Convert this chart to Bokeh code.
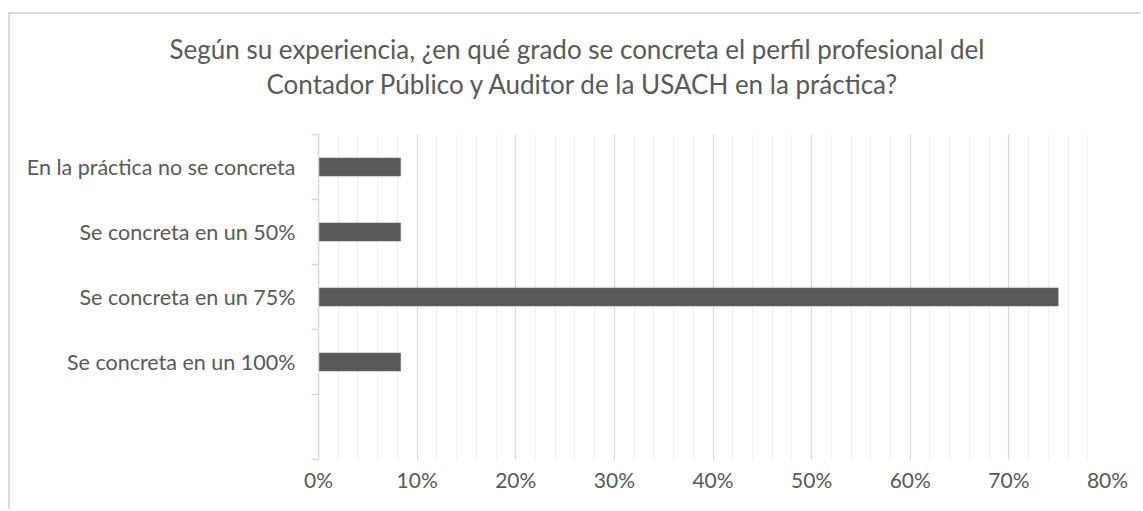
from bokeh.plotting import figure
from bokeh.models import (Range1d, FixedTicker, SingleIntervalTicker,
                          NumeralTickFormatter, Title, ColumnDataSource)
from bokeh.embed import file_html
from bokeh.resources import INLINE

# ---- data (top to bottom as shown) ----
categories = ["En la práctica no se concreta",
              "Se concreta en un 50%",
              "Se concreta en un 75%",
              "Se concreta en un 100%"]
shares = [0.0833, 0.0833, 0.75, 0.0833]
title_lines = ["Según su experiencia, ¿en qué grado se concreta el perfil  profesional del",
               "Contador Público y Auditor de la USACH en la práctica?"]
n_slots = len(categories) + 1  # one empty slot at the bottom
positions = [n_slots - i - 0.5 for i in range(len(categories))]

TEXT = "#595959"
FONT = "Lato"

src = ColumnDataSource(dict(y=positions, x=shares, cat=categories))

W, H = 1133, 497
p = figure(width=W, height=H, output_backend="svg", toolbar_location=None,
           title=None, x_range=Range1d(0, 0.8), y_range=Range1d(0, n_slots),
           min_border_left=308, min_border_right=36, min_border_top=120,
           min_border_bottom=52, margin=(12, 0, 0, 8))
p.styles = {"border-top": "2px solid #dcdcdc", "border-left": "2px solid #dcdcdc"}
p.outline_line_color = None
p.background_fill_color = "white"
p.border_fill_color = "white"

p.hbar(y="y", right="x", left=0, height=0.28, source=src,
       fill_color="#595959", line_color="#6e6e6e", line_width=0.5)

# x axis
xa = p.xaxis[0]
xa.ticker = SingleIntervalTicker(interval=0.1, num_minor_ticks=5)
xa.formatter = NumeralTickFormatter(format="0%")
xa.axis_line_color = None
xa.major_tick_line_color = None
xa.minor_tick_line_color = None
xa.major_label_text_font = FONT
xa.major_label_text_font_size = "21px"
xa.major_label_text_color = TEXT
xa.major_label_standoff = 1

# y axis
ya = p.yaxis[0]
ya.ticker = FixedTicker(ticks=positions, minor_ticks=list(range(n_slots + 1)))
ya.major_label_overrides = {pos: c for pos, c in zip(positions, categories)}
ya.axis_line_color = "#d9d9d9"
ya.axis_line_width = 1.5
ya.major_tick_line_color = None
ya.major_tick_out = 0
ya.major_tick_in = 0
ya.minor_tick_line_color = "#d9d9d9"
ya.minor_tick_line_width = 1.5
ya.minor_tick_out = 7
ya.minor_tick_in = 0
ya.major_label_text_font = FONT
ya.major_label_text_font_size = "21.5px"
ya.major_label_text_color = TEXT
ya.major_label_standoff = 16

# grids
p.ygrid.grid_line_color = None
p.xgrid.grid_line_color = "#d9d9d9"
p.xgrid.grid_line_width = 1.2
p.xgrid.minor_grid_line_color = "#f0f0f0"
p.xgrid.minor_grid_line_width = 1.2

# spacer between the title and the plot frame (added first: nearest the frame)
p.add_layout(Title(text=" ", text_font=FONT, text_font_size="10px",
                   standoff=18, text_color=TEXT), "above")
# title lines
for txt, off in [(title_lines[1], -52), (title_lines[0], -149)]:
    p.add_layout(Title(text=txt, align="left", offset=off, vertical_align="top",
                       standoff=1, text_font=FONT, text_font_size="26px",
                       text_font_style="normal", text_color=TEXT), "above")

open("out.html", "w").write(file_html(p, INLINE))
